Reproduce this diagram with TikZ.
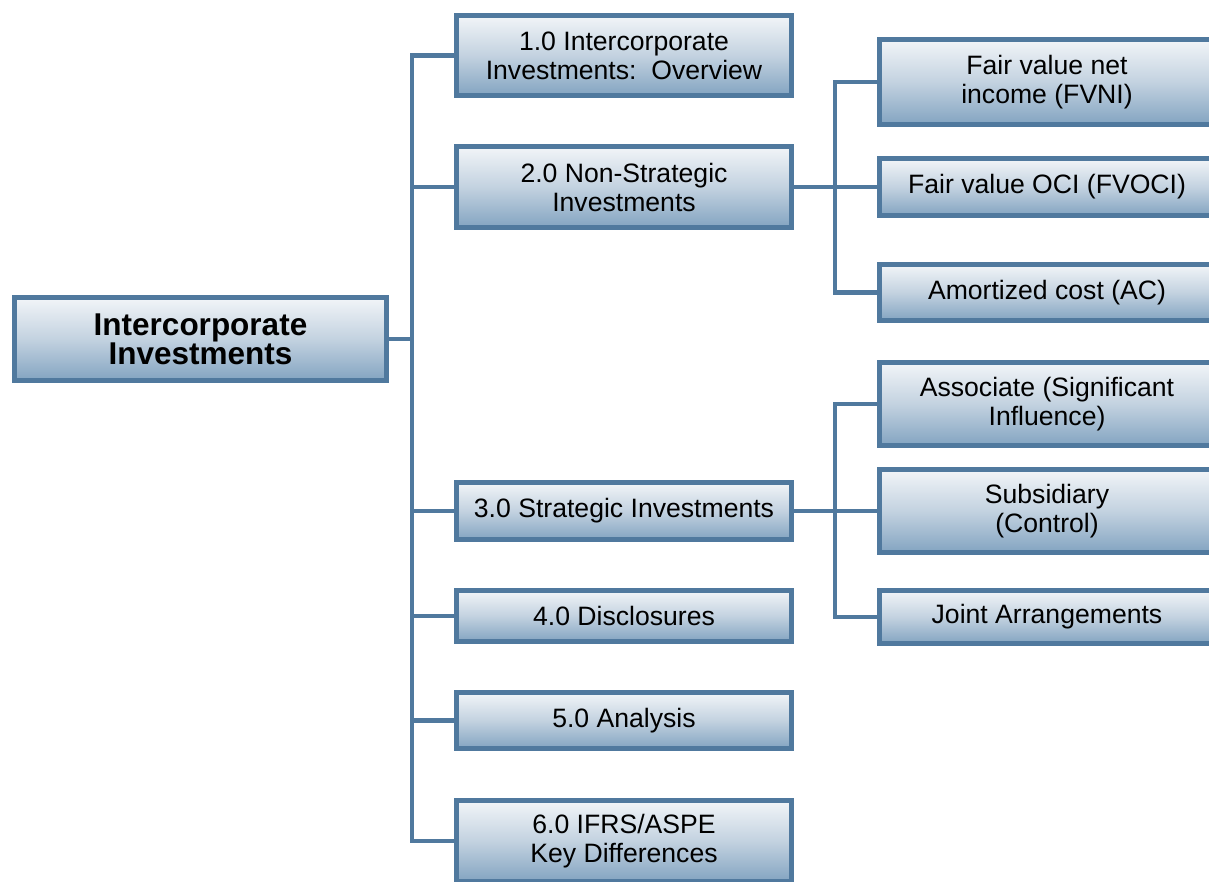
\documentclass[tikz,border=0pt]{standalone}
\usepackage{fontspec}
\setmainfont{Liberation Sans}
\definecolor{bordc}{HTML}{50799E}
\definecolor{topc}{HTML}{F2F5F8}
\definecolor{midc}{HTML}{C3D2E0}
\definecolor{botc}{HTML}{83A4C1}
\tikzset{
  box/.style={draw=bordc, line width=5pt, top color=topc, bottom color=botc, middle color=midc,
    text=black, align=center, inner sep=0pt, minimum width=335pt,
    font=\fontsize{26.6}{29}\selectfont},
  rootbox/.style={box, minimum width=372pt, minimum height=83pt,
    font=\fontsize{31.5}{28}\selectfont\bfseries},
  conn/.style={draw=bordc, line width=4.5pt}
}
\begin{document}
\begin{tikzpicture}[x=1pt,y=-1pt]
\useasboundingbox (0,0) rectangle (1209,882);
\clip (0,0) rectangle (1209,882);
\node[rootbox] (root) at (200.5,339) {Intercorporate\\Investments};
\node[box, minimum height=80pt] (n1) at (624,55.5) {1.0 Intercorporate\\Investments:\ \ Overview};
\node[box, minimum height=81pt] (n2) at (624,187) {2.0 Non-Strategic\\Investments};
\node[box, minimum height=57pt] (n3) at (624,511) {3.0 Strategic Investments};
\node[box, minimum height=51pt] (n4) at (624,616) {4.0 Disclosures};
\node[box, minimum height=56pt] (n5) at (624,720.5) {5.0 Analysis};
\node[box, minimum height=81pt] (n6) at (624,841) {6.0 IFRS/ASPE\\Key Differences};
\node[box, minimum height=85pt] (r1) at (1047,82) {Fair value net\\income (FVNI)};
\node[box, minimum height=57pt] (r2) at (1047,187) {Fair value OCI (FVOCI)};
\node[box, minimum height=56pt] (r3) at (1047,292.5) {Amortized cost (AC)};
\node[box, minimum height=83pt] (r4) at (1047,404) {Associate (Significant\\Influence)};
\node[box, minimum height=83pt] (r5) at (1047,511) {Subsidiary\\(Control)};
\node[box, minimum height=53pt] (r6) at (1047,617) {Joint Arrangements};
\coordinate (T) at (412,0);
\coordinate (T2) at (835,0);
\draw[conn] (root.east) -- (root.east -| T);
\draw[conn] (n1.west) -- (n1.west -| T) -- (n6.west -| T) -- (n6.west);
\foreach \n in {n2,n3,n4,n5} { \draw[conn] (\n.west -| T) -- (\n.west); }
\draw[conn] (n2.east) -- (n2.east -| T2);
\draw[conn] (r1.west) -- (r1.west -| T2) -- (r3.west -| T2) -- (r3.west);
\draw[conn] (r2.west -| T2) -- (r2.west);
\draw[conn] (n3.east) -- (n3.east -| T2);
\draw[conn] (r4.west) -- (r4.west -| T2) -- (r6.west -| T2) -- (r6.west);
\draw[conn] (r5.west -| T2) -- (r5.west);
\end{tikzpicture}
\end{document}
